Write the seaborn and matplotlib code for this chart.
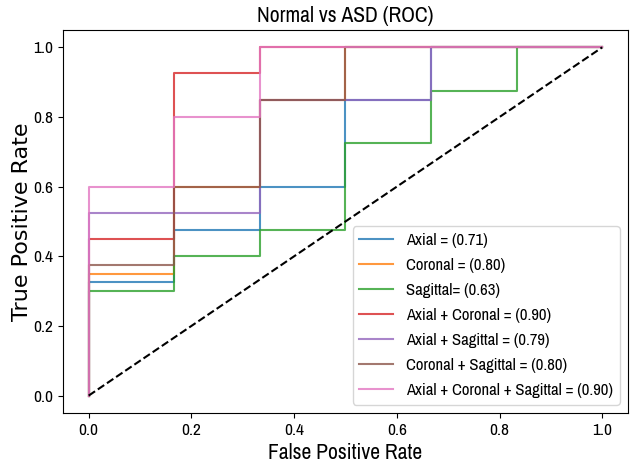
import pandas as pd
import seaborn as sns
import matplotlib
matplotlib.use('Agg')
import matplotlib.pyplot as plt
from matplotlib import font_manager as fm

# Data (6 negatives -> FPR steps of 1/6)
fpr_steps = [0.0, 0.1667, 0.3333, 0.5, 0.6667, 0.8333, 1.0]

models = ['Axial', 'Coronal', 'Sagittal', 'Axial + Coronal', 'Axial + Sagittal',
          'Coronal + Sagittal', 'Axial + Coronal + Sagittal']
legend_names = ['Axial =', 'Coronal =', 'Sagittal=', 'Axial + Coronal =', 'Axial + Sagittal =',
                'Coronal + Sagittal =', 'Axial + Coronal + Sagittal =']
auc_values = [0.71, 0.80, 0.63, 0.90, 0.79, 0.80, 0.90]

# TPR level held on each FPR interval
tpr_axial = [0.325, 0.475, 0.60, 0.85, 1.0, 1.0]
tpr_coronal = [0.35, 0.60, 0.85, 1.0, 1.0, 1.0]
tpr_sagittal = [0.30, 0.40, 0.475, 0.725, 0.875, 1.0]
tpr_ax_cor = [0.45, 0.925, 1.0, 1.0, 1.0, 1.0]
tpr_ax_sag = [0.525, 0.525, 0.85, 0.85, 1.0, 1.0]
tpr_cor_sag = [0.375, 0.60, 0.85, 1.0, 1.0, 1.0]
tpr_all = [0.60, 0.80, 1.0, 1.0, 1.0, 1.0]
tpr_levels = [tpr_axial, tpr_coronal, tpr_sagittal, tpr_ax_cor, tpr_ax_sag, tpr_cor_sag, tpr_all]

# reference text looks horizontally squeezed -> use a narrow sans if installed
narrow = [f for f in fm.fontManager.ttflist if 'Narrow' in f.name]
if narrow:
    plt.rcParams['font.family'] = [narrow[0].name, 'DejaVu Sans']
else:
    plt.rcParams['font.family'] = ['DejaVu Sans']
scale = 1.0 if narrow else 0.8


def roc_points(levels):
    xs, ys = [0.0], [0.0]
    for i, lvl in enumerate(levels):
        xs += [fpr_steps[i], fpr_steps[i + 1]]
        ys += [lvl, lvl]
    return pd.DataFrame({'fpr': xs, 'tpr': ys})


fig = plt.figure(figsize=(6.39, 4.66), dpi=100)
ax = fig.add_axes([0.0986, 0.1137, 0.884, 0.822])

palette = sns.color_palette('tab10', len(models))
for i, name in enumerate(models):
    df = roc_points(tpr_levels[i])
    sns.lineplot(data=df, x='fpr', y='tpr', estimator=None, sort=False, ax=ax,
                 color=palette[i], lw=1.5, alpha=0.8,
                 label=f'{legend_names[i]} ({auc_values[i]:.2f})')

sns.lineplot(x=[0, 1], y=[0, 1], color='k', linestyle='--', lw=1.5, ax=ax)

ax.set_title('Normal vs ASD (ROC)', fontsize=15.5 * scale)
ax.set_xlabel('False Positive Rate', fontsize=15.5 * scale)
# rotated label is not squeezed in the reference
ax.set_ylabel('True Positive Rate', fontsize=16, family='DejaVu Sans', labelpad=1)
ax.tick_params(labelsize=12.5 * scale)
ax.legend(loc='lower right', fontsize=12 * scale, labelspacing=0.6,
          handlelength=2.0 / scale)

fig.savefig('out.png', dpi=100)
